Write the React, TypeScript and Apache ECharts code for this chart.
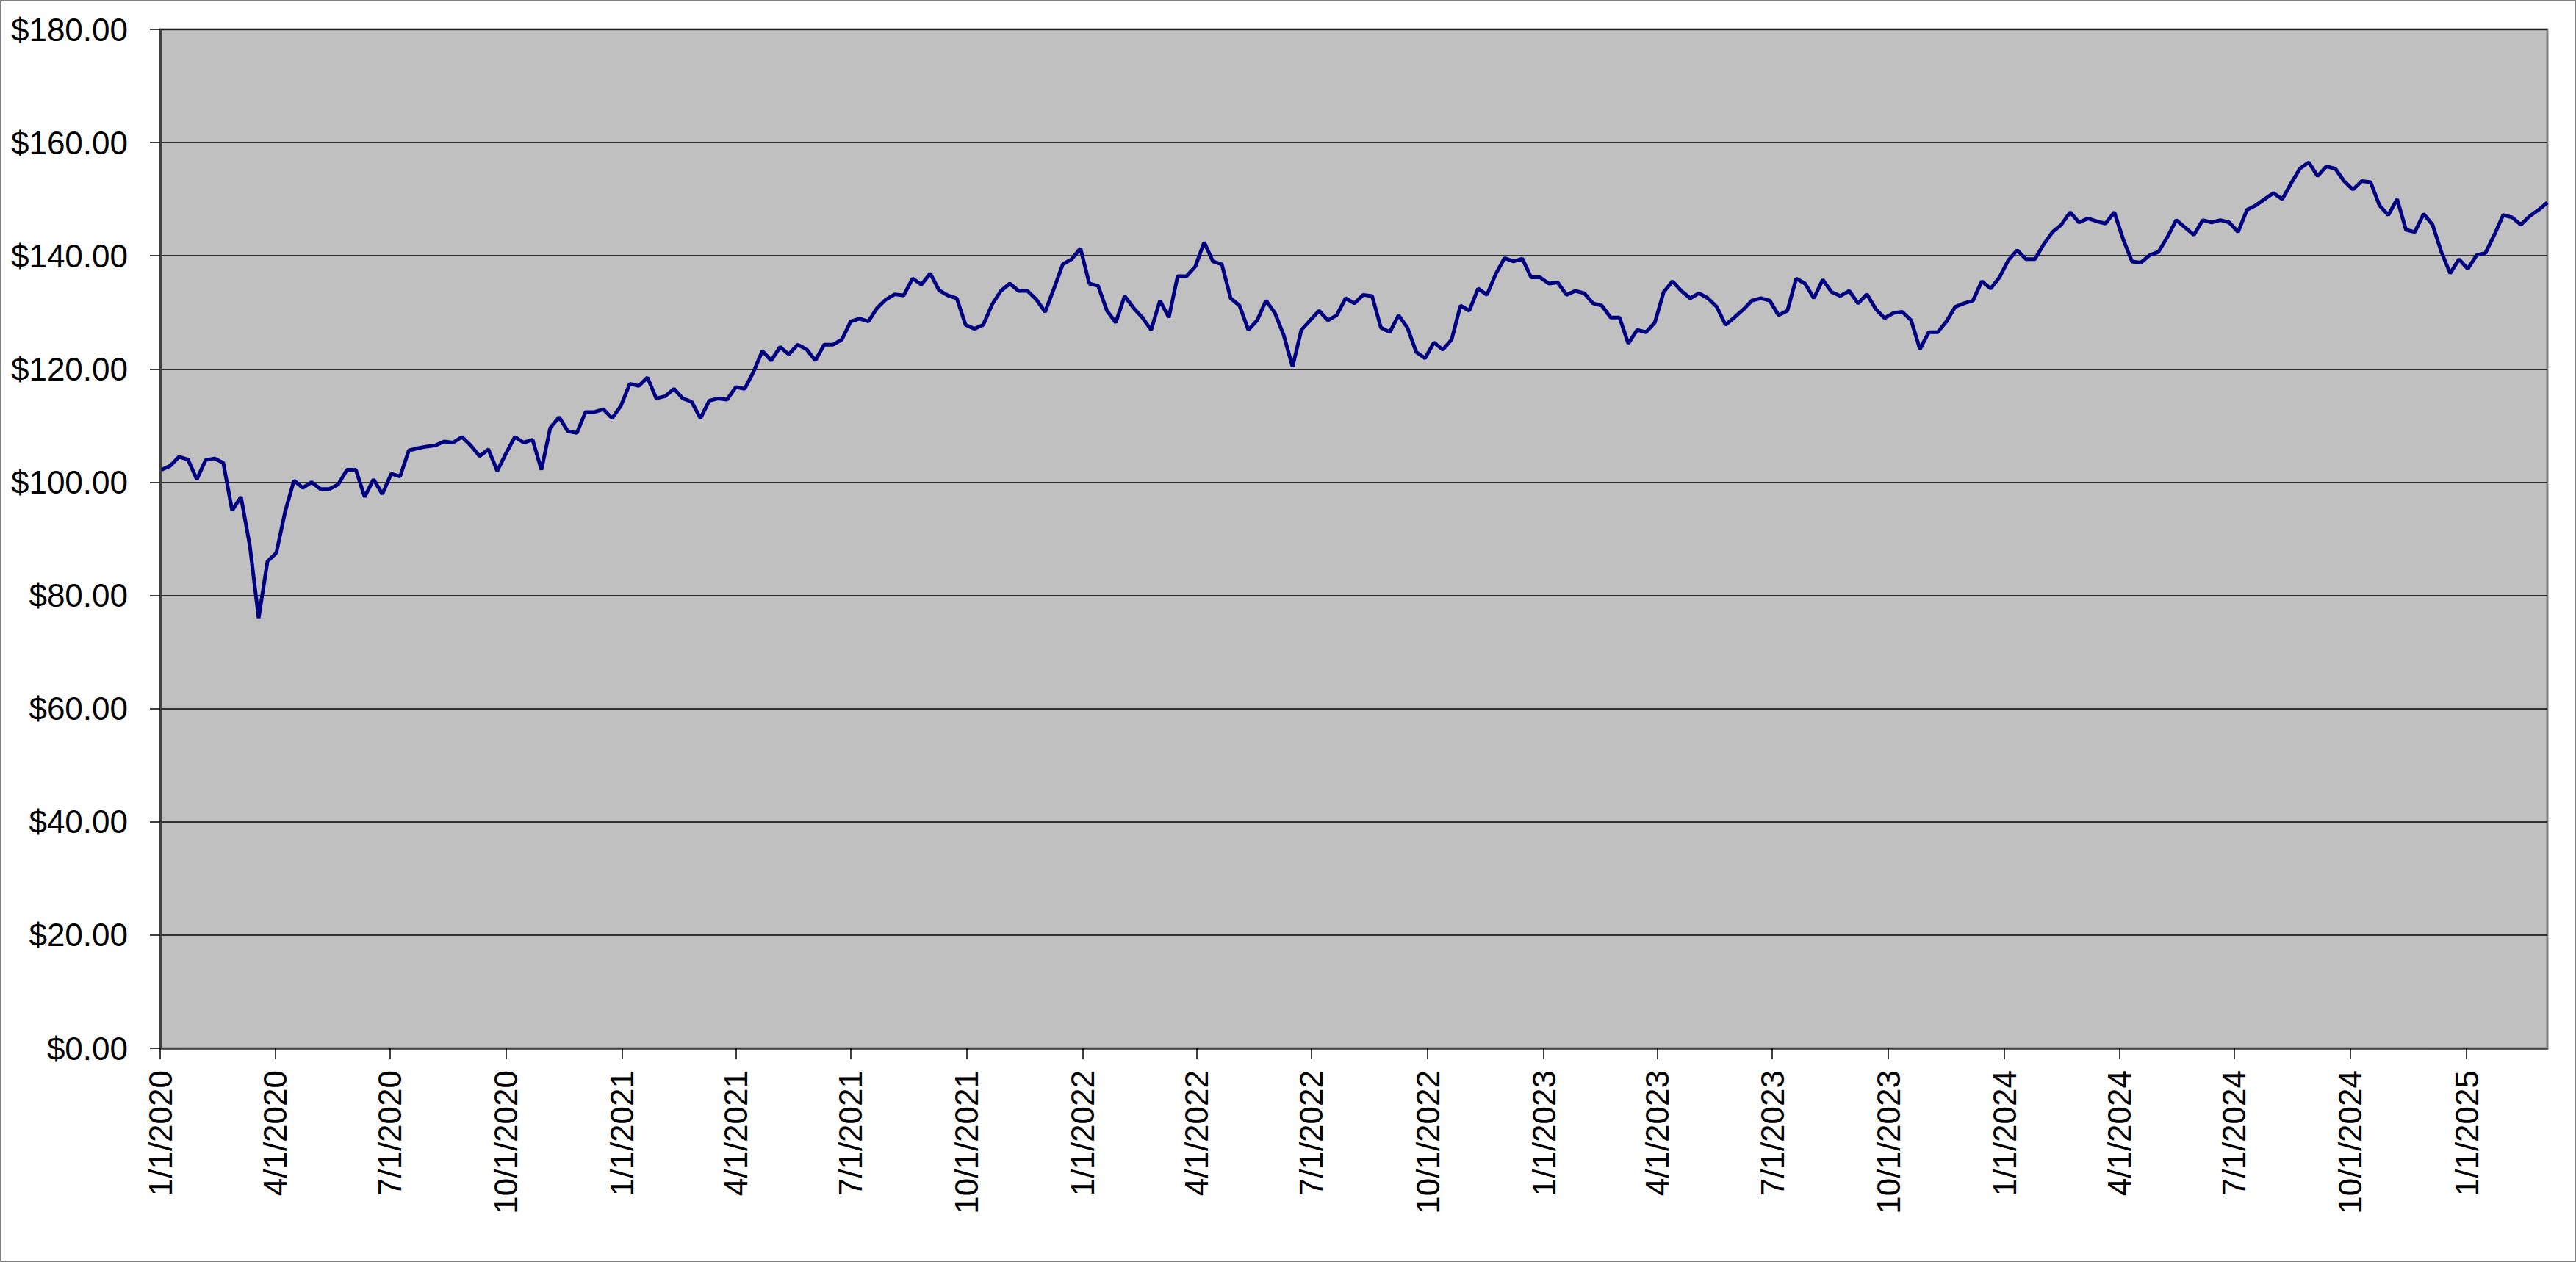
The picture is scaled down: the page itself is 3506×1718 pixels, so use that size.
import React, { useEffect, useRef } from "react";
import * as echarts from "echarts";

// Weekly closing values (every Thursday starting 2020-01-02)
const FIRST_DATE = [2020, 0, 2];
const STEP_DAYS = 7;

const PRICES = [
  102.2, 102.9, 104.5, 104.0, 100.5, 103.9, 104.2, 103.4, 95.0, 97.4,
  88.8, 76.0, 86.0, 87.5, 94.8, 100.3, 99.0, 100.0, 98.8, 98.8,
  99.6, 102.2, 102.2, 97.4, 100.5, 97.9, 101.5, 101.0, 105.6, 106.0,
  106.3, 106.5, 107.2, 107.0, 108.0, 106.5, 104.6, 105.8, 102.0, 105.1,
  108.0, 107.0, 107.5, 102.2, 109.6, 111.5, 109.0, 108.7, 112.4, 112.4,
  112.9, 111.3, 113.5, 117.4, 117.0, 118.5, 114.8, 115.2, 116.5, 114.8,
  114.2, 111.3, 114.4, 114.8, 114.6, 116.8, 116.5, 119.5, 123.2, 121.5,
  123.9, 122.6, 124.3, 123.5, 121.5, 124.3, 124.3, 125.2, 128.4, 128.9,
  128.4, 130.8, 132.3, 133.2, 133.0, 136.0, 134.9, 136.9, 133.9, 133.0,
  132.5, 127.8, 127.1, 127.8, 131.4, 133.8, 135.1, 133.8, 133.8, 132.3,
  130.1, 134.2, 138.5, 139.4, 141.3, 135.1, 134.7, 130.3, 128.2, 132.9,
  130.8, 129.1, 126.9, 132.1, 129.1, 136.4, 136.4, 138.1, 142.4, 139.0,
  138.5, 132.5, 131.2, 126.9, 128.6, 132.1, 129.9, 126.0, 120.4, 126.9,
  128.6, 130.3, 128.6, 129.5, 132.5, 131.6, 133.1, 132.9, 127.3, 126.5,
  129.5, 127.3, 123.0, 121.9, 124.7, 123.4, 125.2, 131.2, 130.3, 134.2,
  133.1, 136.8, 139.6, 139.0, 139.5, 136.2, 136.2, 135.1, 135.3, 133.1,
  133.8, 133.4, 131.6, 131.2, 129.1, 129.1, 124.5, 126.9, 126.5, 128.2,
  133.6, 135.5, 133.8, 132.5, 133.4, 132.5, 131.0, 127.8, 129.1, 130.5,
  132.1, 132.5, 132.1, 129.5, 130.3, 136.0, 135.1, 132.5, 135.8, 133.6,
  132.9, 133.8, 131.6, 133.2, 130.6, 129.0, 129.9, 130.1, 128.6, 123.5,
  126.5, 126.5, 128.4, 131.0, 131.6, 132.1, 135.5, 134.2, 136.2, 139.2,
  141.0, 139.4, 139.4, 142.0, 144.2, 145.5, 147.7, 145.9, 146.6, 146.1,
  145.7, 147.7, 142.9, 139.0, 138.8, 140.1, 140.7, 143.3, 146.3, 145.0,
  143.7, 146.3, 145.9, 146.3, 145.9, 144.2, 148.1, 148.9, 150.0, 151.1,
  150.0, 152.8, 155.4, 156.5, 154.1, 155.8, 155.4, 153.2, 151.7, 153.2,
  153.0, 148.9, 147.2, 150.0, 144.6, 144.2, 147.4, 145.5, 140.7, 136.9,
  139.4, 137.7, 140.1, 140.5, 143.7, 147.2, 146.8, 145.5, 147.0, 148.1,
  149.4,
];

const X_TICK_LABELS = [
  "1/1/2020", "4/1/2020", "7/1/2020", "10/1/2020",
  "1/1/2021", "4/1/2021", "7/1/2021", "10/1/2021",
  "1/1/2022", "4/1/2022", "7/1/2022", "10/1/2022",
  "1/1/2023", "4/1/2023", "7/1/2023", "10/1/2023",
  "1/1/2024", "4/1/2024", "7/1/2024", "10/1/2024",
  "1/1/2025",
];
const X_MIN_LABEL = "1/1/2020";
const X_MAX_LABEL = "3/6/2025";

const Y_MIN = 0;
const Y_MAX = 180;
const Y_STEP = 20;

const FONT = "'Liberation Sans', Arial, sans-serif";

function parseMDY(s: string): number {
  const [m, d, y] = s.split("/").map(Number);
  return new Date(y, m - 1, d).getTime();
}

function fmtMDY(v: number): string {
  const d = new Date(v);
  return `${d.getMonth() + 1}/${d.getDate()}/${d.getFullYear()}`;
}

export default function App() {
  const ref = useRef<HTMLDivElement>(null);

  useEffect(() => {
    document.body.style.margin = "0";
    if (!ref.current) return;
    const chart = echarts.init(ref.current, null, { renderer: "svg" });

    const data = PRICES.map((v, i) => [
      new Date(FIRST_DATE[0], FIRST_DATE[1], FIRST_DATE[2] + STEP_DAYS * i).getTime(),
      v,
    ]);
    const ticks = X_TICK_LABELS.map(parseMDY);

    chart.setOption({
      animation: false,
      backgroundColor: "#ffffff",
      graphic: [
        {
          type: "rect",
          shape: { x: 1, y: 1, width: 3504, height: 1716 },
          style: { fill: "none", stroke: "#808080", lineWidth: 2 },
          silent: true,
        },
      ],
      grid: {
        left: 218,
        top: 40,
        right: 39,
        bottom: 291,
        show: true,
        backgroundColor: "#C0C0C0",
        borderColor: "#808080",
        borderWidth: 3,
        containLabel: false,
        outerBoundsMode: "none",
      },
      xAxis: {
        type: "value",
        min: parseMDY(X_MIN_LABEL),
        max: parseMDY(X_MAX_LABEL),
        scale: true,
        splitLine: { show: false },
        axisLine: { show: true, onZero: false, lineStyle: { color: "#404040", width: 2.5 } },
        axisTick: {
          show: true,
          length: 15,
          customValues: ticks,
          lineStyle: { color: "#000000", width: 1.5 },
        },
        minorTick: { show: false },
        axisLabel: {
          customValues: ticks,
          rotate: 90,
          margin: 30,
          fontSize: 44,
          fontFamily: FONT,
          color: "#000000",
          hideOverlap: false,
          showMinLabel: true,
          showMaxLabel: true,
          formatter: (v: number) => fmtMDY(v),
        },
      },
      yAxis: {
        type: "value",
        min: Y_MIN,
        max: Y_MAX,
        interval: Y_STEP,
        axisLine: { show: true, lineStyle: { color: "#404040", width: 3 } },
        axisTick: { show: true, length: 14, lineStyle: { color: "#000000", width: 1.5 } },
        axisLabel: {
          margin: 44,
          fontSize: 44,
          fontFamily: FONT,
          color: "#000000",
          formatter: (v: number) => "$" + v.toFixed(2),
        },
        splitLine: { show: true, lineStyle: { color: "#000000", width: 1.5 } },
      },
      series: [
        {
          type: "line",
          data,
          showSymbol: false,
          symbol: "none",
          lineStyle: { color: "#000080", width: 5 },
          itemStyle: { color: "#000080" },
          clip: true,
        },
      ],
    });

    return () => chart.dispose();
  }, []);

  return (
    <div
      ref={ref}
      style={{ position: "fixed", left: 0, top: 0, width: 3506, height: 1718, background: "#fff" }}
    />
  );
}
